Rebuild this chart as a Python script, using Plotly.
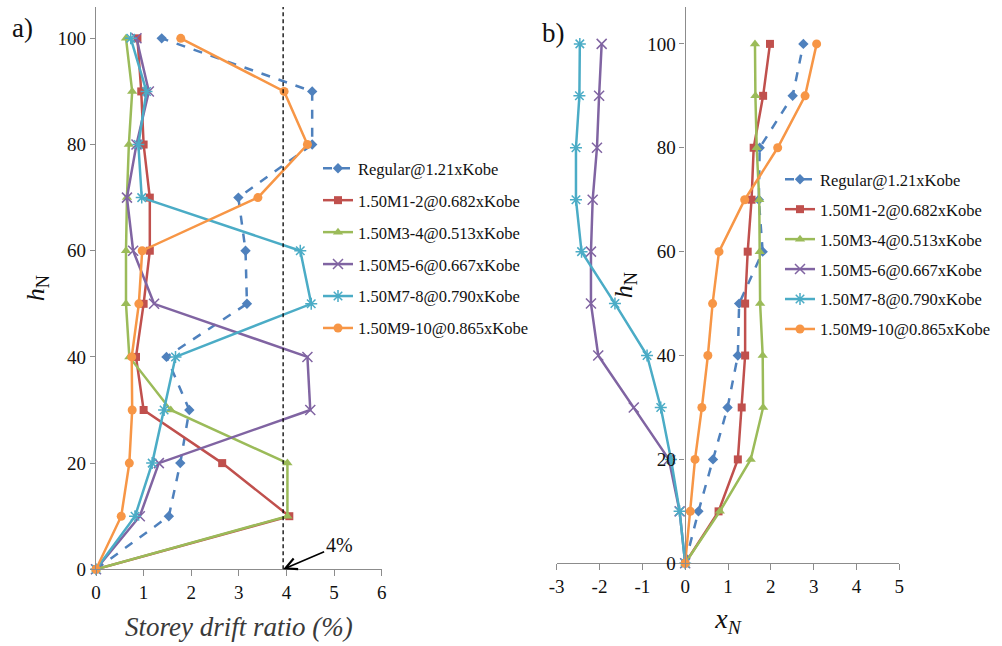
import plotly.graph_objects as go

# Storey levels (normalised height, %)
heights = [0, 10, 20, 30, 40, 50, 60, 70, 80, 90, 100]

series_names = [
    "Regular@1.21xKobe",
    "1.50M1-2@0.682xKobe",
    "1.50M3-4@0.513xKobe",
    "1.50M5-6@0.667xKobe",
    "1.50M7-8@0.790xKobe",
    "1.50M9-10@0.865xKobe",
]

# a) storey drift ratio (%) at each level
drift_regular = [0, 1.53, 1.77, 1.96, 1.48, 3.17, 3.14, 2.99, 4.54, 4.54, 1.38]
drift_m1_2 = [0, 4.06, 2.65, 1.00, 0.84, 1.00, 1.13, 1.13, 1.00, 0.95, 0.87]
drift_m3_4 = [0, 4.02, 4.02, 1.57, 0.70, 0.63, 0.63, 0.65, 0.69, 0.76, 0.63]
drift_m5_6 = [0, 0.92, 1.32, 4.50, 4.44, 1.22, 0.78, 0.65, 0.85, 1.11, 0.85]
drift_m7_8 = [0, 0.82, 1.18, 1.43, 1.67, 4.52, 4.29, 0.96, 0.89, 1.06, 0.73]
drift_m9_10 = [0, 0.53, 0.70, 0.76, 0.75, 0.90, 0.97, 3.40, 4.44, 3.95, 1.78]

# b) x_N at each level
xn_regular = [0, 0.31, 0.65, 0.99, 1.23, 1.26, 1.81, 1.72, 1.74, 2.51, 2.76]
xn_m1_2 = [0, 0.78, 1.23, 1.32, 1.40, 1.40, 1.46, 1.55, 1.60, 1.82, 1.98]
xn_m3_4 = [0, 0.81, 1.53, 1.82, 1.81, 1.75, 1.74, 1.73, 1.67, 1.64, 1.63]
xn_m5_6 = [0, -0.13, -0.38, -1.20, -2.03, -2.20, -2.20, -2.16, -2.06, -2.01, -1.95]
xn_m7_8 = [0, -0.13, -0.33, -0.57, -0.89, -1.64, -2.42, -2.55, -2.55, -2.47, -2.46]
xn_m9_10 = [0, 0.12, 0.23, 0.39, 0.53, 0.64, 0.79, 1.39, 2.16, 2.80, 3.07]

drift_ticks = [0, 1, 2, 3, 4, 5, 6]
xn_ticks = [-3, -2, -1, 0, 1, 2, 3, 4, 5]
xn_tick_text = ["-3", "-2", "-1", "0", "1", "2", "3", "4", "5"]
h_ticks = [0, 20, 40, 60, 80, 100]
drift_limit = 3.93

colors = ["#4F81BD", "#C0504D", "#9BBB59", "#8064A2", "#4BACC6", "#F79646"]
symbols = ["diamond", "square", "triangle-up", "x-thin", "asterisk", "circle"]
sizes = [8, 8, 9, 10, 10, 9]
dashes = ["dash", "solid", "solid", "solid", "solid", "solid"]

drift_data = [drift_regular, drift_m1_2, drift_m3_4, drift_m5_6, drift_m7_8, drift_m9_10]
xn_data = [xn_regular, xn_m1_2, xn_m3_4, xn_m5_6, xn_m7_8, xn_m9_10]

W, H = 1002, 646
SERIF = "Liberation Serif"
AXIS_GREY = "#8c8c8c"


def marker_for(i):
    m = dict(symbol=symbols[i], size=sizes[i], color=colors[i])
    if symbols[i] in ("x-thin", "asterisk"):
        m["line"] = dict(width=1.5, color=colors[i])
    return m


fig = go.Figure()

for i, name in enumerate(series_names):
    fig.add_trace(go.Scatter(
        x=drift_data[i], y=heights, name=name, mode="lines+markers",
        line=dict(color=colors[i], width=2.5, dash=dashes[i]),
        marker=marker_for(i), xaxis="x", yaxis="y",
        legend="legend", legendgroup="a%d" % i, cliponaxis=False,
    ))

for i, name in enumerate(series_names):
    fig.add_trace(go.Scatter(
        x=xn_data[i], y=heights, name=name, mode="lines+markers",
        line=dict(color=colors[i], width=2.5, dash=dashes[i]),
        marker=marker_for(i), xaxis="x2", yaxis="y2",
        legend="legend2", legendgroup="b%d" % i, cliponaxis=False,
    ))


def px_x(p):
    return p / W


def px_y(p):
    return 1 - p / H


axis_common = dict(
    showline=True, linecolor=AXIS_GREY, linewidth=1.3,
    ticks="outside", tickcolor=AXIS_GREY, tickwidth=1.3,
    showgrid=False, zeroline=False, automargin=False,
    tickfont=dict(family=SERIF, size=19, color="#111111"),
)

fig.update_layout(
    width=W, height=H,
    margin=dict(l=0, r=0, t=0, b=0),
    paper_bgcolor="white", plot_bgcolor="white",
    font=dict(family=SERIF, size=19, color="#111111"),
    showlegend=True,
    xaxis=dict(
        axis_common, domain=[px_x(96), px_x(381.7)], range=[0, 6],
        tickvals=drift_ticks, ticklen=6, anchor="y",
        title=dict(text="<i>Storey drift ratio (%)</i>",
                   font=dict(family=SERIF, size=27, color="#3a3a3a"), standoff=14),
    ),
    yaxis=dict(
        axis_common, domain=[px_y(569.3), px_y(7)], range=[0, 105.9],
        tickvals=h_ticks, ticklen=5, anchor="x",
        title=dict(text="<i>h</i><sub>N</sub>",
                   font=dict(family=SERIF, size=26, color="#111111"), standoff=5),
    ),
    xaxis2=dict(
        axis_common, domain=[px_x(556.7), px_x(899.3)], range=[-3, 5],
        tickvals=xn_ticks, ticktext=xn_tick_text, ticklen=6, anchor="y2",
        title=dict(text="<i>x</i><sub><i>N</i></sub>",
                   font=dict(family=SERIF, size=28, color="#111111"), standoff=12),
    ),
    yaxis2=dict(
        axis_common, domain=[px_y(563.3), px_y(7)], range=[0, 107.1],
        tickvals=h_ticks, ticklen=5, anchor="free", position=px_x(684.6),
        title=dict(text="<i>h</i><sub>N</sub>",
                   font=dict(family=SERIF, size=26, color="#111111"), standoff=6),
    ),
    legend=dict(
        x=px_x(318), y=px_y(151), xanchor="left", yanchor="top",
        font=dict(family=SERIF, size=16.5, color="#111111"),
        tracegroupgap=7.5, bgcolor="rgba(0,0,0,0)", borderwidth=0,
    ),
    legend2=dict(
        x=px_x(780), y=px_y(162), xanchor="left", yanchor="top",
        font=dict(family=SERIF, size=16.5, color="#111111"),
        tracegroupgap=5.5, bgcolor="rgba(0,0,0,0)", borderwidth=0,
    ),
)

# 4% drift limit
fig.add_shape(type="line", xref="x", yref="y", x0=drift_limit, x1=drift_limit,
              y0=0, y1=105.9, line=dict(color="black", width=1.3, dash="4px,3px"))
fig.add_annotation(x=drift_limit, y=0, xref="x", yref="y", text="4%",
                   showarrow=True, arrowhead=5, arrowsize=1.4, arrowwidth=1.6,
                   arrowcolor="black", ax=56, ay=-24,
                   font=dict(family=SERIF, size=20, color="#111111"))

# panel labels
fig.add_annotation(x=px_x(22), y=px_y(28), xref="paper", yref="paper", text="a)",
                   xanchor="center", yanchor="middle", showarrow=False,
                   font=dict(family=SERIF, size=27, color="#111111"))
fig.add_annotation(x=px_x(553), y=px_y(33), xref="paper", yref="paper", text="b)",
                   xanchor="center", yanchor="middle", showarrow=False,
                   font=dict(family=SERIF, size=27, color="#111111"))

fig.write_html("out.html")
